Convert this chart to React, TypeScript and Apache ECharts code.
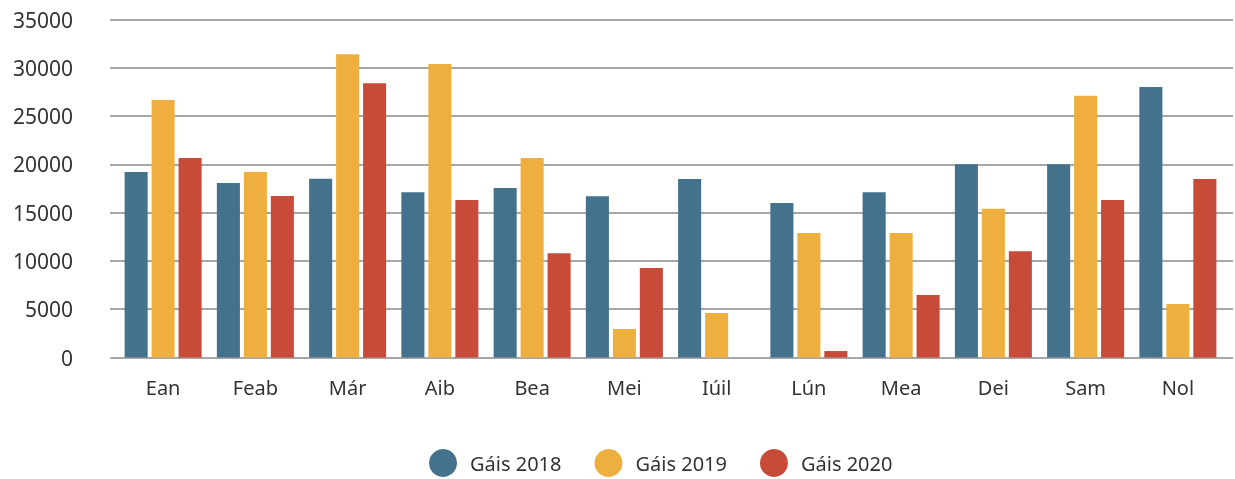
import React, { useEffect, useRef } from "react";
import * as echarts from "echarts";

const months = ["Ean", "Feab", "Már", "Aib", "Bea", "Mei", "Iúil", "Lún", "Mea", "Dei", "Sam", "Nol"];
const seriesNames = ["Gáis 2018", "Gáis 2019", "Gáis 2020"];
const gas2018 = [19200, 18070, 18500, 17100, 17550, 16700, 18480, 16000, 17100, 20000, 20000, 28000];
const gas2019 = [26670, 19200, 31400, 30400, 20650, 2950, 4600, 12900, 12900, 15400, 27100, 5540];
const gas2020 = [20660, 16720, 28400, 16300, 10800, 9270, 0, 670, 6470, 11000, 16300, 18480];
const yTicks = [0, 5000, 10000, 15000, 20000, 25000, 30000, 35000];
const colors = ["#44728c", "#efaf3e", "#c84a38"];

export default function App() {
  const ref = useRef<HTMLDivElement>(null);
  useEffect(() => {
    const chart = echarts.init(ref.current!, undefined, { renderer: "svg" });
    const font = "'Noto Sans', sans-serif";
    const top = 19.5;
    const bottom = 121.5;
    chart.setOption({
      animation: false,
      color: colors,
      textStyle: { fontFamily: font },
      grid: [
        { left: 110, right: 2, top, bottom },
        { left: 117, right: 11, top, bottom },
      ],
      legend: {
        top: 444,
        left: 424,
        icon: "circle",
        itemWidth: 28,
        itemHeight: 28,
        itemGap: 33,
        textStyle: { fontSize: 20, color: "#333", fontFamily: font, padding: [0, 0, 0, 8] },
        data: seriesNames,
      },
      xAxis: [
        { type: "value", gridIndex: 0, show: false, min: 0, max: 1 },
        {
          type: "category",
          gridIndex: 1,
          data: months,
          axisLine: { show: false },
          axisTick: { show: false },
          axisLabel: { fontSize: 20, color: "#333", margin: 20, fontFamily: font },
        },
      ],
      yAxis: [
        {
          type: "value",
          gridIndex: 0,
          min: 0,
          max: 35000,
          interval: 5000,
          axisLine: { show: false },
          axisTick: { show: false },
          axisLabel: {
            fontSize: 21,
            color: "#333",
            margin: 37,
            fontFamily: font,
            formatter: (v: number) => (yTicks.includes(v) ? String(v) : ""),
          },
          splitLine: { lineStyle: { color: "#8a8a8a", width: 1.5 } },
        },
        {
          type: "value",
          gridIndex: 1,
          min: 0,
          max: 35000,
          show: false,
          splitLine: { show: false },
        },
      ],
      series: [gas2018, gas2019, gas2020].map((d, i) => ({
        name: seriesNames[i],
        type: "bar",
        xAxisIndex: 1,
        yAxisIndex: 1,
        data: d,
        barGap: "17%",
        barCategoryGap: "16.5%",
        itemStyle: { color: colors[i] },
      })),
    });
    return () => chart.dispose();
  }, []);
  return <div ref={ref} style={{ position: "fixed", left: 0, top: 0, width: 1235, height: 479 }} />;
}
